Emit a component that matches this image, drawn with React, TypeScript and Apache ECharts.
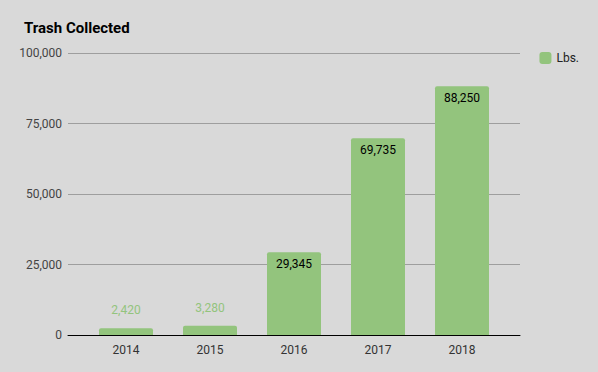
import React, { useEffect, useRef } from "react";
import * as echarts from "echarts";

const categories = ["2014", "2015", "2016", "2017", "2018"];
const lbs = [2420, 3280, 29345, 69735, 88250];
const seriesName = "Lbs.";
const yMax = 100000;
const yInterval = 25000;
const insideThreshold = 10000;

const GREEN = "#93c47d";
const FONT = "Roboto, Arial, sans-serif";

export default function App() {
  const ref = useRef<HTMLDivElement>(null);
  useEffect(() => {
    if (!ref.current) return;
    const chart = echarts.init(ref.current, null, { renderer: "svg" });
    const fmt = (v: number) => v.toLocaleString("en-US");
    chart.setOption({
      animation: false,
      backgroundColor: "#d9d9d9",
      textStyle: { fontFamily: FONT },
      title: {
        text: "Trash Collected",
        left: 19,
        top: 15,
        textStyle: { fontFamily: FONT, fontSize: 15, fontWeight: "bold", color: "#000" },
      },
      legend: {
        data: [seriesName],
        right: 14,
        top: 47,
        itemWidth: 12,
        itemHeight: 12,
        icon: "roundRect",
        itemGap: 8,
        textStyle: { fontFamily: FONT, fontSize: 12, color: "#222" },
      },
      grid: [
        { left: 84, right: 94, top: 53, bottom: 37 },
        { left: 68, right: 78, top: 53, bottom: 37 },
      ],
      xAxis: [
        {
          type: "category",
          gridIndex: 0,
          data: categories,
          axisLine: { show: false },
          axisTick: { show: false },
          axisLabel: { fontFamily: FONT, fontSize: 12, color: "#333", margin: 9 },
        },
        {
          type: "category",
          gridIndex: 1,
          data: [""],
          axisLine: { show: true, lineStyle: { color: "#000", width: 1 } },
          axisTick: { show: false },
          axisLabel: { show: false },
        },
      ],
      yAxis: [
        {
          type: "value",
          gridIndex: 0,
          min: 0,
          max: yMax,
          interval: yInterval,
          show: false,
          splitLine: { show: false },
        },
        {
          type: "value",
          gridIndex: 1,
          min: 0,
          max: yMax,
          interval: yInterval,
          axisLine: { show: false },
          axisTick: { show: false },
          axisLabel: {
            fontFamily: FONT,
            fontSize: 12,
            color: "#444",
            margin: 6,
            formatter: (v: number) => fmt(v),
          },
          splitLine: { lineStyle: { color: "#9e9e9e", width: 1 } },
        },
      ],
      series: [
        {
          name: seriesName,
          type: "bar",
          xAxisIndex: 0,
          yAxisIndex: 0,
          barWidth: 54,
          itemStyle: { color: GREEN, borderRadius: [2, 2, 0, 0] },
          data: lbs.map((v) => ({
            value: v,
            label:
              v >= insideThreshold
                ? { show: true, position: "insideTop", distance: 6, color: "#000" }
                : { show: true, position: "top", distance: 12, color: GREEN },
          })),
          label: {
            fontFamily: FONT,
            fontSize: 12,
            formatter: (p: any) => fmt(p.value),
          },
        },
      ],
    });
    return () => chart.dispose();
  }, []);
  return <div ref={ref} style={{ width: 598, height: 372, position: "absolute", left: 0, top: 0 }} />;
}
